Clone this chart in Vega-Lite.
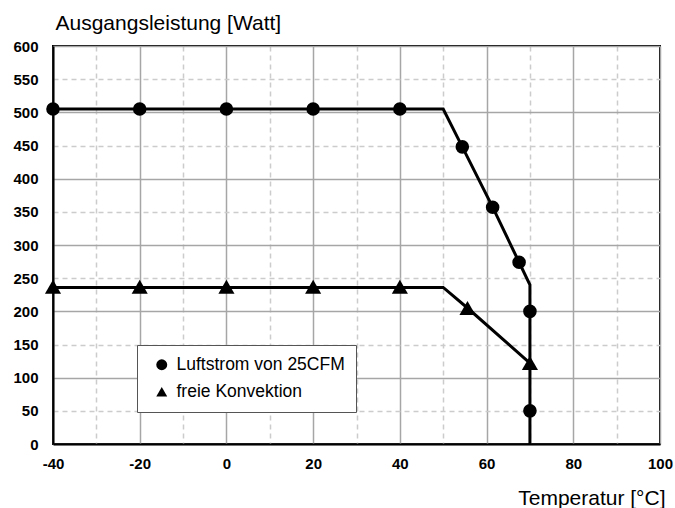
{
  "$schema": "https://vega.github.io/schema/vega-lite/v6.json",
  "width": 607,
  "height": 398,
  "autosize": "none",
  "padding": {"left": 53, "top": 46, "right": 15, "bottom": 64},
  "background": "white",
  "config": {
    "view": {"stroke": "black", "strokeWidth": 2},
    "font": "Liberation Sans"
  },
  "datasets": {
    "lines": [
      {"series": "Luftstrom von 25CFM", "i": 1, "t": -40, "p": 505},
      {"series": "Luftstrom von 25CFM", "i": 2, "t": 50, "p": 505},
      {"series": "Luftstrom von 25CFM", "i": 3, "t": 54.4, "p": 448},
      {"series": "Luftstrom von 25CFM", "i": 4, "t": 61.4, "p": 357},
      {"series": "Luftstrom von 25CFM", "i": 5, "t": 67.5, "p": 274},
      {"series": "Luftstrom von 25CFM", "i": 6, "t": 70, "p": 240},
      {"series": "Luftstrom von 25CFM", "i": 7, "t": 70, "p": 0},
      {"series": "freie Konvektion", "i": 1, "t": -40, "p": 236},
      {"series": "freie Konvektion", "i": 2, "t": 50, "p": 236},
      {"series": "freie Konvektion", "i": 3, "t": 55.6, "p": 205},
      {"series": "freie Konvektion", "i": 4, "t": 70, "p": 122}
    ],
    "points": [
      {"series": "Luftstrom von 25CFM", "t": -40, "p": 505},
      {"series": "Luftstrom von 25CFM", "t": -20, "p": 505},
      {"series": "Luftstrom von 25CFM", "t": 0, "p": 505},
      {"series": "Luftstrom von 25CFM", "t": 20, "p": 505},
      {"series": "Luftstrom von 25CFM", "t": 40, "p": 505},
      {"series": "Luftstrom von 25CFM", "t": 54.4, "p": 448},
      {"series": "Luftstrom von 25CFM", "t": 61.4, "p": 357},
      {"series": "Luftstrom von 25CFM", "t": 67.5, "p": 274},
      {"series": "Luftstrom von 25CFM", "t": 70, "p": 200},
      {"series": "Luftstrom von 25CFM", "t": 70, "p": 50},
      {"series": "freie Konvektion", "t": -40, "p": 237},
      {"series": "freie Konvektion", "t": -20, "p": 237},
      {"series": "freie Konvektion", "t": 0, "p": 237},
      {"series": "freie Konvektion", "t": 20, "p": 237},
      {"series": "freie Konvektion", "t": 40, "p": 237},
      {"series": "freie Konvektion", "t": 55.6, "p": 205},
      {"series": "freie Konvektion", "t": 70, "p": 122}
    ]
  },
  "encoding": {
    "x": {
      "field": "t", "type": "quantitative",
      "scale": {"domain": [-40, 100], "nice": false},
      "axis": {
        "values": [-40, -30, -20, -10, 0, 10, 20, 30, 40, 50, 60, 70, 80, 90, 100],
        "labelExpr": "datum.value % 20 === 0 ? '' + datum.value : ''",
        "labelOverlap": false,
        "title": "Temperatur [°C]",
        "titleAnchor": "end", "titleAlign": "right", "titleBaseline": "alphabetic",
        "titleX": 612, "titleY": 60,
        "titleFont": "Liberation Sans", "titleFontSize": 21, "titleFontWeight": "normal", "titleColor": "black",
        "labelFont": "Liberation Sans", "labelFontSize": 15, "labelFontWeight": "bold", "labelColor": "black",
        "labelPadding": 12,
        "labelFlush": false,
        "ticks": false,
        "domainColor": "black", "domainWidth": 2,
        "grid": true,
        "gridColor": {"condition": {"test": "datum.value % 20 === 0", "value": "#a6a6a6"}, "value": "#cccccc"},
        "gridDash": {"condition": {"test": "datum.value % 20 === 0", "value": []}, "value": [5, 4]},
        "gridWidth": 1.5
      }
    },
    "y": {
      "field": "p", "type": "quantitative",
      "scale": {"domain": [0, 600], "nice": false},
      "axis": {
        "values": [0, 50, 100, 150, 200, 250, 300, 350, 400, 450, 500, 550, 600],
        "labelExpr": "'' + datum.value",
        "labelOverlap": false,
        "labelFlush": false,
        "title": "Ausgangsleistung [Watt]",
        "titleAngle": 0, "titleAnchor": "start", "titleAlign": "left", "titleBaseline": "alphabetic",
        "titleX": 2, "titleY": -17,
        "titleFont": "Liberation Sans", "titleFontSize": 21, "titleFontWeight": "normal", "titleColor": "black",
        "labelFont": "Liberation Sans", "labelFontSize": 15, "labelFontWeight": "bold", "labelColor": "black",
        "labelPadding": 15,
        "ticks": false,
        "domainColor": "black", "domainWidth": 2,
        "grid": true,
        "gridColor": {"condition": {"test": "datum.value % 100 === 0", "value": "#a6a6a6"}, "value": "#cccccc"},
        "gridDash": {"condition": {"test": "datum.value % 100 === 0", "value": []}, "value": [5, 4]},
        "gridWidth": 1.5
      }
    }
  },
  "layer": [
    {
      "data": {"name": "lines"},
      "mark": {"type": "line", "color": "black", "strokeWidth": 3, "clip": false},
      "encoding": {
        "detail": {"field": "series"},
        "order": {"field": "i", "type": "quantitative"}
      }
    },
    {
      "data": {"name": "points"},
      "transform": [{"filter": "datum.series === 'Luftstrom von 25CFM'"}],
      "mark": {"type": "point", "filled": true, "color": "black", "opacity": 1, "size": 185, "clip": false},
      "encoding": {
        "shape": {
          "field": "series", "type": "nominal",
          "scale": {"domain": ["Luftstrom von 25CFM", "freie Konvektion"], "range": ["circle", "triangle-up"]},
          "legend": {
            "title": null,
            "orient": "none",
            "legendX": 84, "legendY": 299,
            "fillColor": "white", "strokeColor": "#555555",
            "padding": 11,
            "labelFont": "Liberation Sans", "labelFontSize": 17.5, "labelColor": "black",
            "labelLimit": 400,
            "labelExpr": "datum.label + '\u2003\u2003'",
            "symbolFillColor": "black", "symbolStrokeColor": "black", "symbolSize": 120,
            "symbolOpacity": 1, "symbolOffset": 5,
            "rowPadding": 8, "labelOffset": 6
          }
        }
      }
    },
    {
      "data": {"name": "points"},
      "transform": [{"filter": "datum.series === 'freie Konvektion'"}],
      "mark": {"type": "point", "filled": true, "color": "black", "opacity": 1, "size": 260, "clip": false},
      "encoding": {
        "shape": {
          "field": "series", "type": "nominal"
        }
      }
    }
  ]
}
